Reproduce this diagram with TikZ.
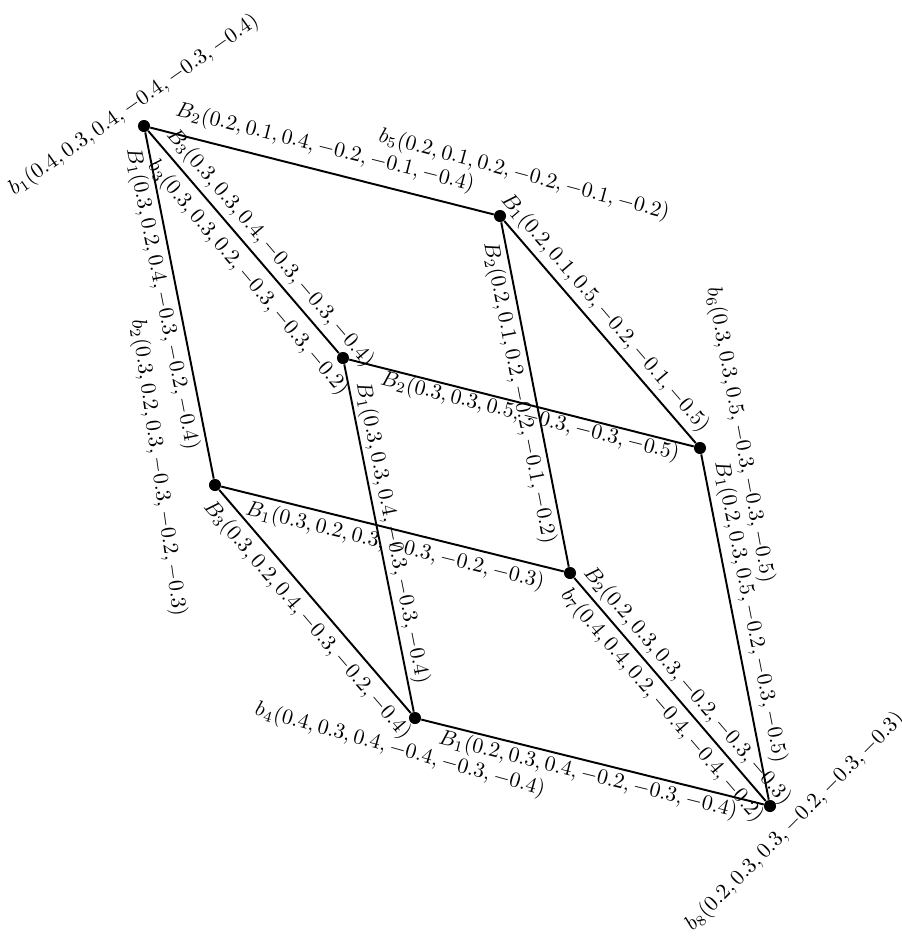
\documentclass[tikz,border=0pt]{standalone}
\begin{document}
\begin{tikzpicture}[x=0.463pt,y=-0.463pt,
  dot/.style={circle,fill=black,inner sep=0pt,minimum size=5.6pt},
  edgeline/.style={line width=0.9pt},
  lbl/.style={inner sep=0pt}]
\useasboundingbox (0,0) rectangle (902,936);
% vertices
\node[dot] (b1) at (144,126) {};
\node[dot] (b5) at (500,216) {};
\node[dot] (b3) at (343,358) {};
\node[dot] (b6) at (700,448) {};
\node[dot] (b2) at (215,485) {};
\node[dot] (b7) at (570,573) {};
\node[dot] (b4) at (415,718) {};
\node[dot] (b8) at (770,806) {};
% edges
\draw[edgeline] (b1) -- (b5);
\draw[edgeline] (b1) -- (b3);
\draw[edgeline] (b1) -- (b2);
\draw[edgeline] (b5) -- (b6);
\draw[edgeline] (b5) -- (b7);
\draw[edgeline] (b3) -- (b6);
\draw[edgeline] (b3) -- (b4);
\draw[edgeline] (b2) -- (b7);
\draw[edgeline] (b2) -- (b4);
\draw[edgeline] (b6) -- (b8);
\draw[edgeline] (b7) -- (b8);
\draw[edgeline] (b4) -- (b8);
% edge labels
\node[lbl,rotate=-14.2] (l15) at (325,148) {$B_2(0.2, 0.1, 0.4, -0.2, -0.1, -0.4)$};
\node[lbl,rotate=-49.4] (l13) at (270,248) {$B_3(0.3, 0.3, 0.4, -0.3, -0.3, -0.4)$};
\node[lbl,rotate=-78.8] (l12) at (162,299) {$B_1(0.3, 0.2, 0.4, -0.3, -0.2, -0.4)$};
\node[lbl,rotate=-49.4] (l24) at (307,620) {$B_3(0.3, 0.2, 0.4, -0.3, -0.2, -0.4)$};
\node[lbl,rotate=-13.9] (l27) at (395,546) {$B_1(0.3, 0.2, 0.3, -0.3, -0.2, -0.3)$};
\node[lbl,rotate=-78.7] (l34) at (392,533) {$B_1(0.3, 0.3, 0.4, -0.3, -0.3, -0.4)$};
\node[lbl,rotate=-14.2] (l36) at (530,417) {$B_2(0.3, 0.3, 0.5, -0.3, -0.3, -0.5)$};
\node[lbl,rotate=-49.2] (l56) at (605,313) {$B_1(0.2, 0.1, 0.5, -0.2, -0.1, -0.5)$};
\node[lbl,rotate=-78.9] (l57) at (519,393) {$B_2(0.2, 0.1, 0.2, -0.2, -0.1, -0.2)$};
\node[lbl,rotate=-78.9] (l68) at (750,612) {$B_1(0.2, 0.3, 0.5, -0.2, -0.3, -0.5)$};
\node[lbl,rotate=-49.4] (l78) at (687,686) {$B_2(0.2, 0.3, 0.3, -0.2, -0.3, -0.3)$};
\node[lbl,rotate=-13.9] (l48) at (588,775) {$B_1(0.2, 0.3, 0.4, -0.2, -0.3, -0.4)$};
% vertex labels
\node[lbl,rotate=35] (t1) at (134,105) {$b_1(0.4, 0.3, 0.4, -0.4, -0.3, -0.4)$};
\node[lbl,rotate=-15] (t5) at (524,175) {$b_5(0.2, 0.1, 0.2, -0.2, -0.1, -0.2)$};
\node[lbl,rotate=-49.9] (t3) at (248,278) {$b_3(0.3, 0.3, 0.2, -0.3, -0.3, -0.2)$};
\node[lbl,rotate=-79.5] (t6) at (740,435) {$b_6(0.3, 0.3, 0.5, -0.3, -0.3, -0.5)$};
\node[lbl,rotate=-82] (t2) at (158,468) {$b_2(0.3, 0.2, 0.3, -0.3, -0.2, -0.3)$};
\node[lbl,rotate=-49.4] (t7) at (662,706) {$b_7(0.4, 0.4, 0.2, -0.4, -0.4, -0.2)$};
\node[lbl,rotate=-15.6] (t4) at (400,750) {$b_4(0.4, 0.3, 0.4, -0.4, -0.3, -0.4)$};
\node[lbl,rotate=45] (t8) at (795,822) {$b_8(0.2, 0.3, 0.3, -0.2, -0.3, -0.3)$};
\end{tikzpicture}
\end{document}
